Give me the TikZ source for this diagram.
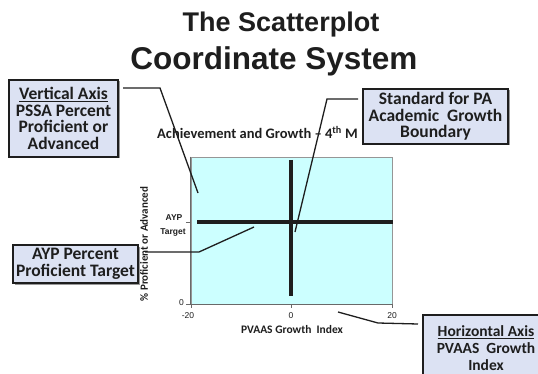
\documentclass[tikz,border=0pt]{standalone}
\usepackage{fontspec}
\setmainfont{Carlito}
\newfontfamily\arialf{Liberation Sans}
\usetikzlibrary{shadows}
\definecolor{boxfill}{RGB}{220,226,243}
\definecolor{plotfill}{RGB}{204,255,255}
\definecolor{plotedge}{RGB}{150,150,150}
\definecolor{inkc}{RGB}{30,30,30}
\begin{document}
\begin{tikzpicture}[x=1pt,y=-1pt,
  callout/.style={draw=inkc,line width=1.6pt,fill=boxfill,inner sep=0pt,align=center,
    font=\bfseries\fontsize{17.5}{16.7}\selectfont,text=inkc,
    drop shadow={shadow xshift=1.5pt,shadow yshift=-1.5pt,fill=black!40,opacity=1}},
  leader/.style={line width=1.3pt,draw=inkc},
  bar/.style={line width=3.6pt,draw=inkc},
  ticklab/.style={font=\arialf\fontsize{8.5}{10}\selectfont,inner sep=0pt,text=inkc},
  axlab/.style={font=\bfseries\fontsize{11.5}{12}\selectfont,inner sep=0pt,text=inkc},
]
\useasboundingbox (0,0) rectangle (538,374);
\clip (0,0) rectangle (538,374);
\fill[white] (0,0) rectangle (538,374);

% title
\node[font=\arialf\bfseries\fontsize{27}{30}\selectfont,anchor=base,text=inkc] (t1) at (281,32) {The Scatterplot};
\node[font=\arialf\bfseries\fontsize{31.5}{34}\selectfont,anchor=base,text=inkc] (t2) at (274,70) {Coordinate System};

% chart title
\node[font=\bfseries\fontsize{14.5}{15}\selectfont,anchor=base west,inner sep=0pt,text=inkc] (ctitle) at (157,139) {Achievement and Growth -- 4\textsuperscript{th} M};

% plot area
\node[draw=plotedge,fill=plotfill,line width=0.6pt,minimum width=201pt,minimum height=147pt,inner sep=0pt] (plot) at (291.5,230.5) {};
\draw[plotedge!70!black,line width=0.7pt] (plot.north west) -- (plot.south west) -- (plot.south east);
% ticks
\coordinate (ty1) at (191,222);
\coordinate (ty0) at (191,304);
\coordinate (tx1) at (191,304);
\coordinate (tx2) at (291,304);
\coordinate (tx3) at (392,304);
\draw[plotedge!70!black,line width=0.7pt] (ty1) -- ++(-5,0) (ty0) -- ++(-5,0)
  (tx1) -- ++(0,4) (tx2) -- ++(0,4) (tx3) -- ++(0,4);

% tick labels
\node[ticklab,anchor=east] (l0) at (184,303) {0};
\node[ticklab] (lm20) at (188,316) {-20};
\node[ticklab] (lx0) at (291,316) {0};
\node[ticklab] (lx20) at (392,316) {20};
\node[ticklab,font=\arialf\bfseries\fontsize{8.5}{10}\selectfont] (ayp1) at (174,218) {AYP};
\node[ticklab,font=\arialf\bfseries\fontsize{8.5}{10}\selectfont] (ayp2) at (173,232) {Target};
\node[axlab] (xlab) at (292,330) {PVAAS Growth\ \ Index};
\node[axlab,rotate=90,font=\bfseries\fontsize{11}{12}\selectfont] (ylab) at (144,244) {\% Proficient or Advanced};

% boundary bars
\coordinate (hb1) at (197,222);
\coordinate (hb2) at (393,222);
\coordinate (vb1) at (291,160);
\coordinate (vb2) at (291,296);
\draw[bar] (hb1) -- (hb2);
\draw[bar] (vb1) -- (vb2);

% callout boxes
\node[callout,minimum width=109pt,minimum height=77pt] (vbox) at (63.5,118.5)
  {\underline{Vertical Axis}\\PSSA Percent\\Proficient or\\Advanced};
\node[callout,minimum width=145pt,minimum height=55pt] (sbox) at (435.5,116.5)
  {Standard for PA\\Academic\ \ Growth\\Boundary};
\node[callout,minimum width=125pt,minimum height=38pt] (abox) at (75.5,264)
  {AYP Percent\\Proficient Target};
\node[callout,minimum width=126pt,minimum height=66pt,font=\bfseries\fontsize{15.5}{17}\selectfont] (hbox) at (486,348)
  {\underline{Horizontal Axis}\\PVAAS\ \ Growth\\Index};

% leaders
\coordinate (v1) at (123,88);
\coordinate (v2) at (160,88);
\coordinate (v3) at (198,193);
\draw[leader] (v1) -- (v2) -- (v3);
\coordinate (s1) at (358,99);
\coordinate (s2) at (327,99);
\coordinate (s3) at (295,232);
\draw[leader] (s1) -- (s2) -- (s3);
\coordinate (a1) at (145,252);
\coordinate (a2) at (199,252);
\coordinate (a3) at (254,227);
\draw[leader] (a1) -- (a2) -- (a3);
\coordinate (h1) at (418,324);
\coordinate (h2) at (378,323);
\coordinate (h3) at (338,312);
\draw[leader] (h1) -- (h2) -- (h3);
\end{tikzpicture}
\end{document}
